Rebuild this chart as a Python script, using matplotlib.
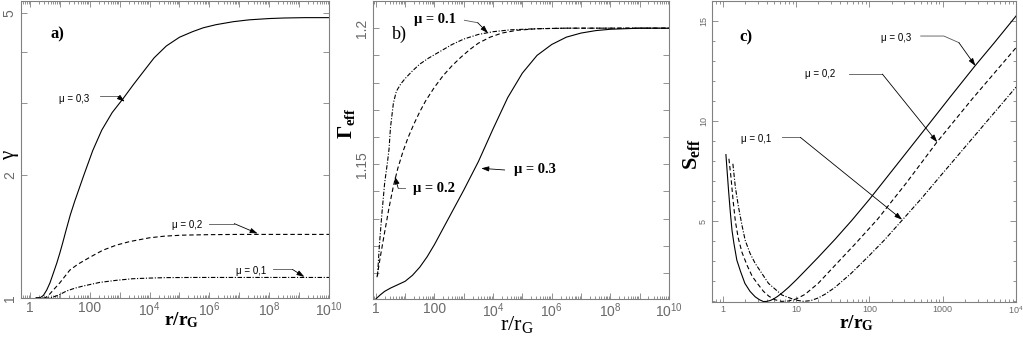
import matplotlib
matplotlib.use("Agg")
import matplotlib.pyplot as plt
from matplotlib.ticker import FixedLocator, FixedFormatter, LogLocator, NullLocator, MultipleLocator

plt.rcParams['mathtext.fontset'] = 'custom'
plt.rcParams['mathtext.rm'] = 'Liberation Serif'
plt.rcParams['mathtext.bf'] = 'Liberation Serif:bold'
plt.rcParams['mathtext.it'] = 'Liberation Serif:italic'
plt.rcParams['mathtext.sf'] = 'Liberation Sans'
plt.rcParams['font.family'] = 'Liberation Sans'

## data (x given as log10 of r/rG)

# a) gamma
lr_a3 = [0.2, 0.33, 0.45, 0.56, 0.67, 0.78, 0.9, 1.0, 1.1, 1.2, 1.35, 1.5, 1.65, 1.8, 2.1, 2.4,
         2.75, 3.11, 3.45, 3.78, 4.15, 4.56, 5.0, 5.44, 5.8, 6.22, 6.8, 7.33, 8.0, 8.5, 9.2, 10]
g_a3 = [1.0, 1.0, 1.015, 1.046, 1.09, 1.15, 1.22, 1.29, 1.37, 1.46, 1.6, 1.73, 1.86, 2.0, 2.3, 2.58,
        2.85, 3.08, 3.33, 3.58, 3.88, 4.15, 4.36, 4.5, 4.6, 4.68, 4.76, 4.81, 4.845, 4.86, 4.87, 4.87]
lr_a2 = [0.2, 0.5, 0.62, 0.78, 1.0, 1.33, 1.6, 1.85, 2.1, 2.44, 2.89, 3.33, 4.0, 4.5, 5.1, 6.0, 7.0, 10]
g_a2 = [1.0, 1.0, 1.015, 1.046, 1.09, 1.17, 1.21, 1.24, 1.27, 1.31, 1.348, 1.375, 1.405, 1.418, 1.426,
        1.43, 1.432, 1.432]
lr_a1 = [0.2, 0.67, 0.85, 1.0, 1.22, 1.5, 1.78, 2.33, 2.89, 3.44, 4.0, 4.56, 5.5, 10]
g_a1 = [1.0, 1.0, 1.01, 1.02, 1.04, 1.057, 1.07, 1.092, 1.105, 1.115, 1.119, 1.122, 1.123, 1.123]

# b) Gamma_eff
lr_b3 = [0.0, 0.15, 0.3, 0.5, 0.76, 1.0, 1.25, 1.5, 1.75, 2.0, 2.5, 3.0, 3.5, 4.0, 4.5, 5.0, 5.5,
         6.0, 6.5, 7.0, 7.5, 8.0, 9.0, 10]
G_b3 = [1.1005, 1.102, 1.1033, 1.1045, 1.1058, 1.107, 1.1092, 1.1122, 1.116, 1.1205, 1.1305, 1.1405,
        1.151, 1.163, 1.1745, 1.1835, 1.19, 1.194, 1.1967, 1.1982, 1.1991, 1.1996, 1.2, 1.2]
lr_b2 = [0.04, 0.15, 0.3, 0.45, 0.6, 0.75, 0.93, 1.1, 1.3, 1.5, 1.7, 2.0, 2.3, 2.6, 2.9, 3.2, 3.5,
         3.9, 4.3, 4.8, 5.5, 6.5, 10]
G_b2 = [1.1085, 1.1158, 1.125, 1.134, 1.142, 1.1485, 1.1548, 1.1598, 1.1648, 1.1693, 1.1733, 1.1783,
        1.1826, 1.1862, 1.1893, 1.1921, 1.1945, 1.1967, 1.1982, 1.1992, 1.1998, 1.2, 1.2]
lr_b1 = [0.057, 0.12, 0.2, 0.3, 0.4, 0.45, 0.5, 0.6, 0.7, 0.85, 1.0, 1.25, 1.5, 1.8, 2.2, 2.6, 3.0,
         3.5, 4.0, 4.6, 5.5, 6.5, 10]
G_b1 = [1.109, 1.12, 1.131, 1.143, 1.151, 1.1555, 1.1635, 1.1725, 1.1768, 1.1795, 1.1815, 1.1843,
        1.1868, 1.189, 1.1915, 1.194, 1.196, 1.1977, 1.1987, 1.1994, 1.1998, 1.2, 1.2]

# c) S_eff
lr_c3 = [0.041, 0.077, 0.1, 0.124, 0.15, 0.19, 0.24, 0.3, 0.37, 0.44, 0.5, 0.554, 0.6, 0.65, 0.7,
         0.75, 0.82, 0.895, 1.0, 1.12, 1.3, 1.53, 1.76, 2.0, 2.4, 2.81, 3.1, 3.44, 3.7, 4.0]
S_c3 = [8.33, 6.54, 5.5, 4.55, 3.9, 3.06, 2.5, 1.9, 1.5, 1.23, 1.08, 0.99, 1.0, 1.05, 1.14,
        1.26, 1.46, 1.7, 2.07, 2.52, 3.2, 4.1, 5.05, 6.1, 7.95, 9.85, 11.2, 12.76, 13.9, 15.25]
lr_c2 = [0.082, 0.11, 0.14, 0.17, 0.21, 0.26, 0.33, 0.4, 0.48, 0.554, 0.63, 0.713, 0.8, 0.895, 1.0,
         1.12, 1.3, 1.53, 1.8, 2.11, 2.5, 2.92, 3.4, 4.0]
S_c2 = [8.12, 7.2, 6.0, 5.0, 4.15, 3.45, 2.8, 2.25, 1.85, 1.5, 1.25, 1.08, 1.0, 1.02, 1.12,
        1.35, 1.9, 2.8, 3.85, 5.1, 6.9, 8.95, 11.1, 13.67]
lr_c1 = [0.136, 0.17, 0.213, 0.26, 0.304, 0.37, 0.44, 0.622, 0.805, 0.986, 1.1, 1.2, 1.3, 1.4, 1.53,
         1.75, 2.0, 2.2, 2.445, 2.7, 3.0, 3.5, 4.0]
S_c1 = [7.87, 6.7, 5.71, 4.8, 4.05, 3.4, 2.9, 1.9, 1.32, 1.07, 1.0, 1.04, 1.17, 1.37, 1.7,
        2.4, 3.3, 4.05, 5.05, 6.1, 7.4, 9.55, 11.7]

dec_ticks = [10.0**k for k in range(0, 11)]
dec_labels = ['1', '', '100', '', r'$\mathsf{10^{4}}$', '', r'$\mathsf{10^{6}}$', '',
              r'$\mathsf{10^{8}}$', '', r'$\mathsf{10^{10}}$']
c_ticks = [1, 10, 100, 1000, 1e4]
c_labels = ['1', '10', '100', '1000', r'$\mathsf{10^{4}}$']

GREY = '#808080'
TXT = '#6a6a6a'
SOLID = dict(color='black', lw=0.8, ls='-')
DASH = dict(color='black', lw=0.8, ls=(0, (4, 2.5)))
DDOT = dict(color='black', lw=0.8, ls=(0, (4, 1.5, 1, 1.5)))


def rr(lr):
    return [10.0**v for v in lr]


def style(ax, fs):
    for s in ax.spines.values():
        s.set_color(GREY)
        s.set_linewidth(0.8)
    ax.tick_params(which='both', direction='in', top=True, right=True, color=GREY, width=0.6)
    ax.tick_params(which='major', length=4)
    ax.tick_params(which='minor', length=2)
    ax.tick_params(axis='x', labelsize=fs, labelcolor=TXT, pad=2)
    ax.tick_params(axis='y', labelsize=fs, labelcolor=TXT, labelrotation=90, pad=3)
    for t in ax.get_yticklabels():
        t.set_va('center')


def leader(ax, pts, text, tx, ty, **kw):
    xs = [p[0] for p in pts[:-1]]
    ys = [p[1] for p in pts[:-1]]
    ax.plot(xs, ys, color='#555555', lw=0.6)
    ax.annotate('', xy=pts[-1], xytext=pts[-2],
                arrowprops=dict(arrowstyle='-|>,head_length=0.45,head_width=0.15',
                                color='black', lw=0.6, shrinkA=0, shrinkB=0))
    ax.text(tx, ty, text, ha='center', va='center', **kw)


fig = plt.figure(figsize=(10.23, 3.41), dpi=100)

## a)
ax = fig.add_axes([0.0205, 0.1261, 0.3011, 0.871])
ax.plot(rr(lr_a3), g_a3, **SOLID)
ax.plot(rr(lr_a2), g_a2, **DASH)
ax.plot(rr(lr_a1), g_a1, **DDOT)
ax.set_xscale('log')
ax.set_yscale('log')
ax.set_xlim(0.5, 1e10)
ax.set_ylim(1, 5.35)
ax.xaxis.set_major_locator(FixedLocator(dec_ticks))
ax.xaxis.set_major_formatter(FixedFormatter(dec_labels))
ax.xaxis.set_minor_locator(LogLocator(base=10, subs=range(2, 10), numticks=50))
ax.yaxis.set_major_locator(FixedLocator([1, 2, 3, 4, 5]))
ax.yaxis.set_major_formatter(FixedFormatter(['1', '2', '', '', '5']))
ax.yaxis.set_minor_locator(NullLocator())
style(ax, 10)
sm = dict(fontsize=7, color='black', family='Liberation Sans')
leader(ax, [(215, 3.12), (880, 3.12), (1470, 3.03)], 'μ = 0,3', 30, 3.08, **sm)
leader(ax, [(1e6, 1.522), (6.8e6, 1.522), (4.1e7, 1.439)], 'μ = 0,2', 1.8e5, 1.508, **sm)
leader(ax, [(1.3e8, 1.175), (6e8, 1.175), (1.5e9, 1.127)], 'μ = 0,1', 2.5e7, 1.166, **sm)
ax.text(0.117, 0.889, 'a)', transform=ax.transAxes, ha='center', va='center',
        fontsize=12, fontweight='bold', family='Liberation Serif')
ax.text(0.52, -0.091, r'$\mathbf{r/r_G}$', transform=ax.transAxes, ha='center', va='baseline', fontsize=14)
ax.text(-0.038, 0.48, 'γ', transform=ax.transAxes, ha='center', va='center', rotation=90,
        fontsize=15, family='Liberation Serif')

## b)
ax = fig.add_axes([0.3646, 0.1232, 0.2893, 0.874])
ax.plot(rr(lr_b3), G_b3, **SOLID)
ax.plot(rr(lr_b2), G_b2, **DASH)
ax.plot(rr(lr_b1), G_b1, **DDOT)
ax.set_xscale('log')
ax.set_xlim(0.8, 1e10)
ax.set_ylim(1.1005, 1.21)
ax.xaxis.set_major_locator(FixedLocator(dec_ticks))
ax.xaxis.set_major_formatter(FixedFormatter(dec_labels))
ax.xaxis.set_minor_locator(LogLocator(base=10, subs=range(2, 10), numticks=50))
ax.yaxis.set_major_locator(FixedLocator([1.11, 1.12, 1.13, 1.14, 1.15, 1.16, 1.17, 1.18, 1.19, 1.2]))
ax.yaxis.set_major_formatter(FixedFormatter(['', '', '', '', '1.15', '', '', '', '', '1.2']))
style(ax, 10)
bs = dict(fontsize=10.5, fontweight='bold', family='Liberation Serif', color='black')
leader(ax, [(1050, 1.2029), (3000, 1.202), (6700, 1.1982)], 'μ = 0.1', 105, 1.2033, **bs)
leader(ax, [(9.8, 1.1412), (5.8, 1.1412), (4.47, 1.1455)], 'μ = 0.2', 97, 1.1412, **bs)
leader(ax, [(2.5e4, 1.1479), (3950, 1.1485)], 'μ = 0.3', 2.6e5, 1.1479, **bs)
ax.text(0.09, 0.889, 'b)', transform=ax.transAxes, ha='center', va='center',
        fontsize=13, family='Liberation Serif')
ax.text(0.486, -0.105, r'$\mathrm{r/r_G}$', transform=ax.transAxes, ha='center', va='baseline', fontsize=16)
ax.text(-0.091, 0.589, r'$\mathbf{\Gamma_{eff}}$', transform=ax.transAxes, ha='center', va='center',
        rotation=90, fontsize=15)

## c)
ax = fig.add_axes([0.696, 0.1144, 0.2972, 0.8827])
ax.plot(rr(lr_c3), S_c3, **SOLID)
ax.plot(rr(lr_c2), S_c2, **DASH)
ax.plot(rr(lr_c1), S_c1, **DDOT)
ax.set_xscale('log')
ax.set_xlim(0.71, 1e4)
ax.set_ylim(0.97, 16.0)
ax.xaxis.set_major_locator(FixedLocator(c_ticks))
ax.xaxis.set_major_formatter(FixedFormatter(c_labels))
ax.xaxis.set_minor_locator(LogLocator(base=10, subs=range(2, 10), numticks=50))
ax.yaxis.set_major_locator(FixedLocator([5, 10, 15]))
ax.yaxis.set_minor_locator(MultipleLocator(1))
style(ax, 6.5)
leader(ax, [(500, 14.25), (1035, 14.25), (1660, 13.92), (2790, 12.76)], 'μ = 0,3', 232, 14.17, **sm)
leader(ax, [(52, 12.35), (150, 12.35), (840, 8.95)], 'μ = 0,2', 21.5, 12.35, **sm)
leader(ax, [(6.4, 9.19), (11.4, 9.19), (279, 5.08)], 'μ = 0,1', 2.8, 9.11, **sm)
ax.text(0.11, 0.88, 'c)', transform=ax.transAxes, ha='center', va='center',
        fontsize=12, fontweight='bold', family='Liberation Serif')
ax.text(0.474, -0.086, r'$\mathbf{r/r_G}$', transform=ax.transAxes, ha='center', va='baseline', fontsize=14)
ax.text(-0.066, 0.49, r'$\mathbf{S_{eff}}$', transform=ax.transAxes, ha='center', va='center',
        rotation=90, fontsize=16)

fig.savefig('out.png', dpi=100)
